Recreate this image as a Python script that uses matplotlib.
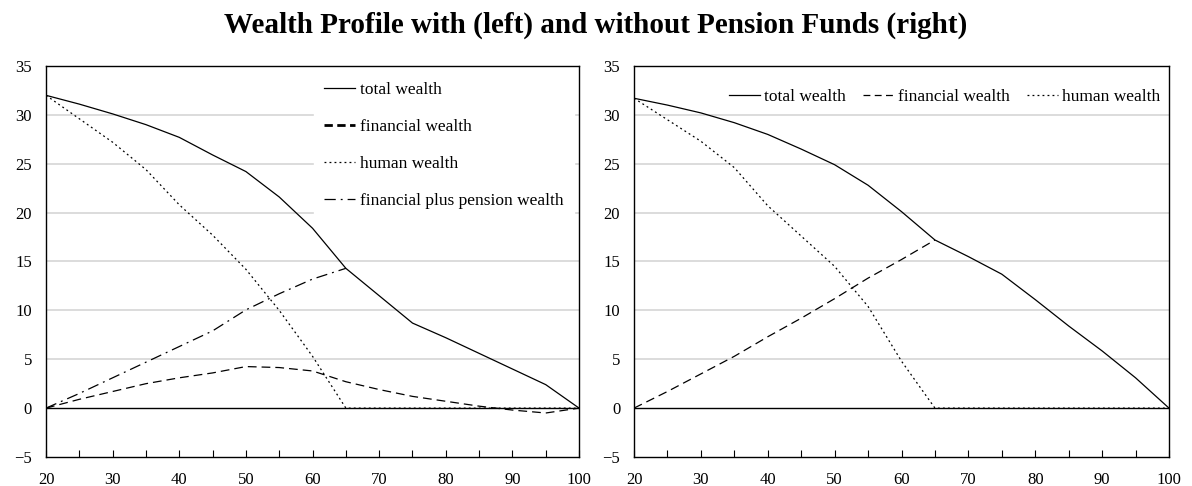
import numpy as np
import matplotlib.pyplot as plt

plt.rcParams['font.family'] = ['Liberation Serif', 'DejaVu Serif']
plt.rcParams['font.size'] = 12

# Edad
edad = [20, 25, 30, 35, 40, 45, 50, 55, 60, 65, 70, 75, 80, 85, 90, 95, 100]
edad_activa = edad[:10]  # 20..65

# Panel izquierdo: con fondos de pensiones
total_izq = [32.0, 31.1, 30.1, 29.0, 27.7, 25.9, 24.2, 21.6, 18.4, 14.3, 11.5, 8.7, 7.2, 5.6, 4.0, 2.4, 0.0]
financiera_izq = [0.0, 0.9, 1.7, 2.5, 3.1, 3.6, 4.25, 4.15, 3.8, 2.7, 1.9, 1.2, 0.7, 0.2, -0.2, -0.5, 0.0]
humana_izq = [32.0, 29.6, 27.2, 24.4, 20.8, 17.7, 14.2, 10.0, 5.3, 0.0, 0.0, 0.0, 0.0, 0.0, 0.0, 0.0, 0.0]
fin_pension_izq = [0.0, 1.5, 3.1, 4.7, 6.3, 7.9, 10.05, 11.7, 13.2, 14.3]

# Panel derecho: sin fondos de pensiones
total_der = [31.7, 31.0, 30.2, 29.2, 28.0, 26.5, 24.9, 22.8, 20.1, 17.2, 15.5, 13.7, 11.1, 8.4, 5.85, 3.1, 0.0]
financiera_der = [0.0, 1.7, 3.5, 5.3, 7.3, 9.2, 11.2, 13.3, 15.2, 17.2]
humana_der = [31.7, 29.5, 27.3, 24.6, 20.7, 17.6, 14.5, 10.4, 4.8, 0.0, 0.0, 0.0, 0.0, 0.0, 0.0, 0.0, 0.0]

fig = plt.figure(figsize=(11.92, 4.86), dpi=100)
ax1 = fig.add_axes([0.0386, 0.0597, 0.4472, 0.8045])
ax2 = fig.add_axes([0.5319, 0.0597, 0.4488, 0.8045])


def preparar_ejes(ax):
    ax.set_xlim(20, 100)
    ax.set_ylim(-5, 35)
    ax.set_xticks(np.arange(20, 101, 10))
    ax.set_xticks(np.arange(20, 101, 5), minor=True)
    ax.set_yticks(np.arange(-5, 36, 5))
    ax.set_yticklabels(['\u22125', '0', '5', '10', '15', '20', '25', '30', '35'])
    ax.tick_params(axis='x', which='both', direction='in', length=5, width=0.8, pad=11)
    ax.tick_params(axis='y', length=0, pad=10)
    for yv in range(5, 36, 5):
        ax.axhline(yv, color='#d9d9d9', lw=1.3, zorder=0)
    ax.axhline(0, color='black', lw=1.0, zorder=1)
    for s in ax.spines.values():
        s.set_linewidth(1.0)


preparar_ejes(ax1)
preparar_ejes(ax2)

# Izquierda
ax1.plot(edad, total_izq, color='black', lw=0.9, ls='-', label='total wealth', zorder=3)
ax1.plot(edad, financiera_izq, color='black', lw=0.9, ls=(0, (7, 4)), label='financial wealth', zorder=3)
ax1.plot(edad, humana_izq, color='black', lw=0.9, ls=(0, (1.5, 2.5)), label='human wealth', zorder=3)
ax1.plot(edad_activa, fin_pension_izq, color='black', lw=0.9, ls=(0, (9, 4, 1.5, 4)),
         label='financial plus pension wealth', zorder=3)
leg1 = ax1.legend(loc='upper right', frameon=True, facecolor='white', edgecolor='white',
                  framealpha=1, handlelength=1.75, handletextpad=0.3, labelspacing=1.2,
                  borderaxespad=0.3, borderpad=0.6, fontsize=12.5, fancybox=False)
h = leg1.legend_handles[1]
h.set_linewidth(2.0)
h.set_dashes([3.0, 1.6])
leg1.set_zorder(2)

# Derecha
ax2.plot(edad, total_der, color='black', lw=0.9, ls='-', label='total wealth', zorder=3)
ax2.plot(edad_activa, financiera_der, color='black', lw=0.9, ls=(0, (7, 4)), label='financial wealth', zorder=3)
ax2.plot(edad, humana_der, color='black', lw=0.9, ls=(0, (1.5, 2.5)), label='human wealth', zorder=3)
leg2 = ax2.legend(loc='upper right', bbox_to_anchor=(1.0, 0.964), ncol=3, frameon=False,
                  handlelength=1.75, handletextpad=0.25, columnspacing=1.0,
                  borderaxespad=0.1, fontsize=12.5)
leg2.legend_handles[1].set_dashes([5.5, 3.5])

fig.suptitle('Wealth Profile with (left) and without Pension Funds (right)',
             fontsize=21, fontweight='bold', y=0.947, va='center')

fig.savefig('out.png', dpi=100)
